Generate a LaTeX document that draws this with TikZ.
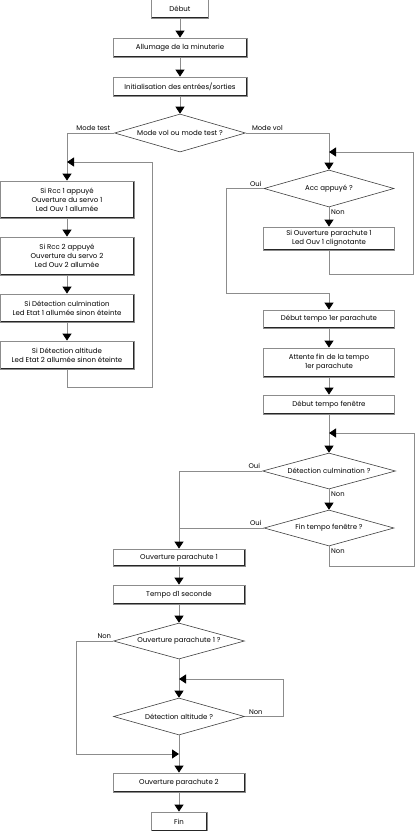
\documentclass[tikz,border=0pt]{standalone}
\usepackage{fontspec}
\setmainfont{Poppins}
\usetikzlibrary{shapes.geometric,arrows.meta}
\definecolor{lg}{RGB}{140,140,140}
\begin{document}
\begin{tikzpicture}[x=1pt,y=-1pt,
 box/.style={rectangle, draw=lg, line width=0.8pt, fill=white, inner sep=0pt, align=center,
   font=\fontsize{7}{9}\selectfont,
   path picture={\draw[black!85,line width=1.4pt] (path picture bounding box.north east) -- (path picture bounding box.south east) -- (path picture bounding box.south west);}},
 dia/.style={diamond, draw=black!75, line width=0.6pt, fill=white, inner sep=0pt, aspect=3.6,
   font=\fontsize{7}{9}\selectfont},
 conn/.style={draw=lg, line width=0.8pt},
 arr/.style={conn, -{Triangle[length=7pt,width=9pt,color=black,fill=black]}},
 lbl/.style={font=\fontsize{6.8}{8}\selectfont, inner sep=1pt}
]
\useasboundingbox (0,0) rectangle (415,831);
% main top column
\node[box, minimum width=57pt, minimum height=19pt] (debut) at (180,8.5) {Début};
\node[box, minimum width=134pt, minimum height=19pt] (allum) at (180,47.5) {Allumage de la minuterie};
\node[box, minimum width=134pt, minimum height=19pt] (init) at (180,86.5) {Initialisation des entrées/sorties};
\node[dia, minimum width=131pt, minimum height=38pt] (mode) at (180,133) {Mode vol ou mode test ?};
% left column
\node[box, minimum width=134pt, minimum height=37pt] (b1) at (67,199.5) {Si Rcc 1 appuyé\\Ouverture du servo 1\\Led Ouv 1 allumée};
\node[box, minimum width=134pt, minimum height=38pt] (b2) at (67,256) {Si Rcc 2 appuyé\\Ouverture du servo 2\\Led Ouv 2 allumée};
\node[box, minimum width=134pt, minimum height=28pt] (b3) at (67,308) {Si Détection culmination\\Led Etat 1 allumée sinon éteinte};
\node[box, minimum width=134pt, minimum height=28pt] (b4) at (67,355) {Si Détection altitude\\Led Etat 2 allumée sinon éteinte};
% right column
\node[dia, minimum width=130pt, minimum height=37pt] (acc) at (329,188.5) {Acc appuyé ?};
\node[box, minimum width=131pt, minimum height=23pt] (siouv) at (329,238.5) {Si Ouverture parachute 1\\Led Ouv 1 clignotante};
\node[box, minimum width=131pt, minimum height=18pt] (t1) at (329,319) {Début tempo 1er parachute};
\node[box, minimum width=131pt, minimum height=29pt] (att) at (329,362.5) {Attente fin de la tempo\\1er parachute};
\node[box, minimum width=131pt, minimum height=19pt] (tf) at (329,404.5) {Début tempo fenêtre};
\node[dia, minimum width=133pt, minimum height=36pt] (culm) at (329,471) {Détection culmination ?};
\node[dia, minimum width=130pt, minimum height=36pt] (fintf) at (329,528) {Fin tempo fenêtre ?};
% bottom column
\node[box, minimum width=132pt, minimum height=17pt] (op1) at (179,557.5) {Ouverture parachute 1};
\node[box, minimum width=132pt, minimum height=19pt] (tempo) at (179,594.5) {Tempo d1 seconde};
\node[dia, minimum width=131pt, minimum height=36pt] (op1q) at (179,641) {Ouverture parachute 1 ?};
\node[dia, minimum width=131pt, minimum height=37pt] (alt) at (179,716.5) {Détection altitude ?};
\node[box, minimum width=132pt, minimum height=19pt] (op2) at (179,782.5) {Ouverture parachute 2};
\node[box, minimum width=56pt, minimum height=19pt] (fin) at (179,821.5) {Fin};
% merge points
\coordinate (m1) at (67,162);
\coordinate (m2) at (329,152);
\coordinate (m3) at (329,433);
\coordinate (m4) at (179,679);
\coordinate (m5) at (179,754);
% connectors
\draw[arr] (debut) -- (allum);
\draw[arr] (allum) -- (init);
\draw[arr] (init) -- (mode);
\draw[arr] (mode.west) -| (b1.north);
\draw[arr] (b1) -- (b2);
\draw[arr] (b2) -- (b3);
\draw[arr] (b3) -- (b4);
\draw[arr] (b4.south) -- (67,387) -- (152,387) -- (152,162) -- (m1);
\draw[arr] (mode.east) -| (acc.north);
\draw[arr] (acc.south) -- (siouv.north);
\draw[arr] (siouv.south) -- (329,274) -- (413,274) -- (413,152) -- (m2);
\draw[arr] (acc.west) -- (226,188.5) -- (226,293) -- (329,293) -- (t1.north);
\draw[arr] (t1) -- (att);
\draw[arr] (att) -- (tf);
\draw[arr] (tf.south) -- (culm.north);
\draw[arr] (culm.south) -- (fintf.north);
\draw[arr] (fintf.south) -- (329,566) -- (414,566) -- (414,433) -- (m3);
\draw[arr] (culm.west) -| (op1.north);
\draw[conn] (fintf.west) -- (179,528);
\draw[arr] (op1) -- (tempo);
\draw[arr] (tempo) -- (op1q);
\draw[arr] (op1q.south) -- (alt.north);
\draw[arr] (alt.east) -- (283,716.5) -- (283,679) -- (m4);
\draw[arr] (op1q.west) -- (76,641) -- (76,754) -- (m5);
\draw[arr] (alt.south) -- (op2.north);
\draw[arr] (op2) -- (fin);
% labels
\node[lbl, anchor=south east] (lmt) at ([xshift=-3pt,yshift=1pt]mode.west) {Mode test};
\node[lbl, anchor=south west] (lmv) at ([xshift=5pt,yshift=1pt]mode.east) {Mode vol};
\node[lbl, anchor=south east] (lao) at ([xshift=-1pt,yshift=1pt]acc.west) {Oui};
\node[lbl, anchor=north west] (lan) at ([xshift=1pt,yshift=-1pt]acc.south) {Non};
\node[lbl, anchor=south east] (lco) at ([xshift=-1pt,yshift=1pt]culm.west) {Oui};
\node[lbl, anchor=north west] (lcn) at ([xshift=1pt,yshift=-1pt]culm.south) {Non};
\node[lbl, anchor=south east] (lfo) at ([xshift=-1pt,yshift=1pt]fintf.west) {Oui};
\node[lbl, anchor=north west] (lfn) at ([xshift=1pt,yshift=-1pt]fintf.south) {Non};
\node[lbl, anchor=south east] (lon) at ([xshift=-1pt,yshift=1pt]op1q.west) {Non};
\node[lbl, anchor=south west] (lln) at ([xshift=3pt,yshift=1pt]alt.east) {Non};
\end{tikzpicture}
\end{document}
